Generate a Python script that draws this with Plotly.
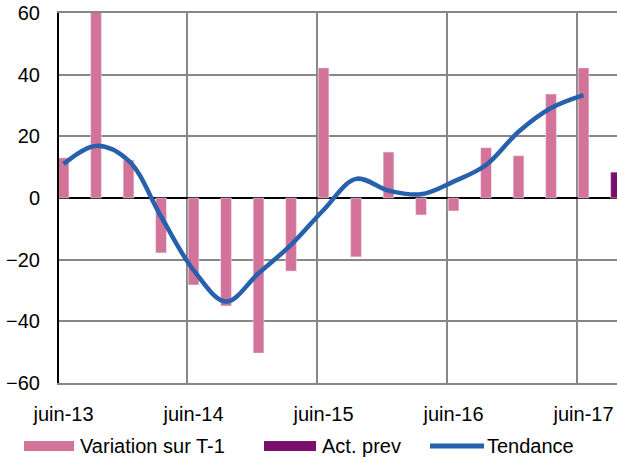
import plotly.graph_objects as go

# Data
quarters = list(range(18))
tick_positions = [0, 4, 8, 12, 16]
tick_labels = ["juin-13", "juin-14", "juin-15", "juin-16", "juin-17"]
variation = [13, 63, 12.3, -17.8, -28.2, -35, -50.3, -23.7, 42.2, -19.1,
             14.9, -5.5, -4.2, 16.3, 13.7, 33.7, 42.2, None]
act_prev = [None] * 17 + [8.4]
tendance = [11, 16.9, 12.1, -6, -23.4, -33.6, -24.4, -15.2, -3.9, 6.2,
            2.4, 1.2, 5.3, 10.7, 21.5, 29.2, 33.4]
series_names = ["Variation sur T-1", "Act. prev", "Tendance"]

PINK = "#D4739A"
PURPLE = "#7B0F6E"
BLUE = "#2760AC"
GRID = "#878787"
FONT = "Liberation Sans, Arial, sans-serif"
FS = 20

W, H = 617, 459
ML, MR, MT, MB = 59, 0, 13, 459 - 383
PW, PH = W - ML - MR, H - MT - MB


def px_x(px):
    return (px - ML) / PW


def px_y(py):
    return (H - MB - py) / PH


fig = go.Figure()
fig.add_trace(go.Bar(x=quarters, y=variation, marker_color=PINK, width=0.33,
                     showlegend=False, name=series_names[0]))
fig.add_trace(go.Bar(x=quarters, y=act_prev, marker_color=PURPLE, width=0.33,
                     showlegend=False, name=series_names[1]))
fig.add_trace(go.Scatter(x=quarters[:len(tendance)], y=tendance, mode="lines",
                         line=dict(color=BLUE, width=4.5, shape="spline", smoothing=1.0),
                         showlegend=False, name=series_names[2]))

# Manual legend (Excel-style wide swatches)
shapes = [
    dict(type="rect", xref="paper", yref="paper", x0=px_x(24), x1=px_x(74),
         y0=px_y(451), y1=px_y(441), fillcolor=PINK, line=dict(width=0)),
    dict(type="rect", xref="paper", yref="paper", x0=px_x(264), x1=px_x(316),
         y0=px_y(451), y1=px_y(441), fillcolor=PURPLE, line=dict(width=0)),
    dict(type="line", xref="paper", yref="paper", x0=px_x(430), x1=px_x(484),
         y0=px_y(446), y1=px_y(446), line=dict(color=BLUE, width=5)),
]
annotations = [
    dict(text=series_names[0], x=px_x(78), y=px_y(446)),
    dict(text=series_names[1], x=px_x(320), y=px_y(446)),
    dict(text=series_names[2], x=px_x(485), y=px_y(446)),
]
for a in annotations:
    a.update(xref="paper", yref="paper", xanchor="left", yanchor="middle",
             showarrow=False, font=dict(family=FONT, size=FS, color="black"))

fig.update_layout(
    width=W, height=H,
    margin=dict(l=ML, r=MR, t=MT, b=MB, autoexpand=False),
    paper_bgcolor="white", plot_bgcolor="white",
    font=dict(family=FONT, size=FS, color="black"),
    barmode="overlay",
    showlegend=False,
    shapes=shapes,
    annotations=annotations,
    xaxis=dict(range=[-0.14, 17.03], tickmode="array", tickvals=tick_positions,
               ticktext=tick_labels, showgrid=False, zeroline=False, automargin=False,
               showline=True, linecolor=GRID, linewidth=1.5, mirror=True,
               ticks="", ticklabelstandoff=12, ticklabeloverflow="allow",
               minor=dict(tickmode="array", tickvals=[3.8, 7.8, 11.8, 15.8],
                          showgrid=True, gridcolor=GRID, gridwidth=1.5, ticks="")),
    yaxis=dict(range=[-60, 60], dtick=20, tick0=0, showgrid=True, gridcolor=GRID,
               gridwidth=1.5, zeroline=True, zerolinecolor="black", zerolinewidth=2,
               showline=True, linecolor="black", linewidth=2, ticks="", automargin=False,
               ticklabelstandoff=13, ticklabeloverflow="allow"),
)

fig.write_html("out.html", config={"displayModeBar": False},
               post_script="document.body.style.margin='0';")
